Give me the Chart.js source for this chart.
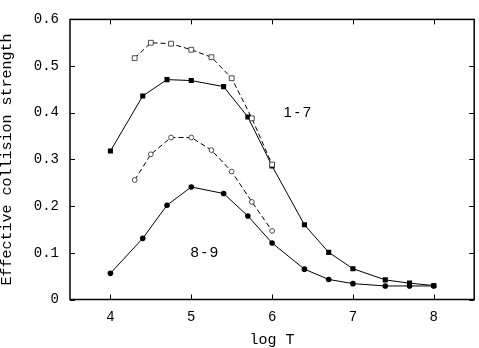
<!DOCTYPE html>
<html>
<head>
<meta charset="utf-8">
<script src="https://cdn.jsdelivr.net/npm/chart.js@4"></script>
<style>
  html, body { margin: 0; padding: 0; background: #fff; }
  #wrap { width: 479px; height: 348px; }
</style>
</head>
<body>
<div id="wrap"><canvas id="plot" width="479" height="348"></canvas></div>
<script>
// values
const logT = [4.0, 4.4, 4.7, 5.0, 5.4, 5.7, 6.0, 6.4, 6.7, 7.0, 7.4, 7.7, 8.0];
const ups17 = [0.318, 0.436, 0.471, 0.469, 0.456, 0.391, 0.286, 0.160, 0.101, 0.066, 0.042, 0.035, 0.030];
const ups89 = [0.056, 0.131, 0.202, 0.241, 0.227, 0.179, 0.121, 0.065, 0.043, 0.034, 0.029, 0.029, 0.029];

const logTOld = [4.3, 4.5, 4.75, 5.0, 5.25, 5.5, 5.75, 6.0];
const old17 = [0.517, 0.550, 0.548, 0.535, 0.519, 0.474, 0.388, 0.289];
const old89 = [0.256, 0.311, 0.347, 0.347, 0.320, 0.274, 0.209, 0.147];

const xTicks = [4, 5, 6, 7, 8];
const yTicks = [0, 0.1, 0.2, 0.3, 0.4, 0.5, 0.6];
const yTickLabels = ['0', '0.1', '0.2', '0.3', '0.4', '0.5', '0.6'];

const curveLabels = ['1-7', '8-9'];
const curveLabelX = [6.33, 5.18];
const curveLabelY = [0.399, 0.099];

const pts = (xs, ys) => xs.map((x, i) => ({x: x, y: ys[i]}));

const mono = 'Liberation Mono';

// frame, inward ticks on all four sides, curve labels
const framePlugin = {
  id: 'frame',
  afterDatasetsDraw(chart) {
    const ctx = chart.ctx;
    const a = chart.chartArea;
    const xs = chart.scales.x, ys = chart.scales.y;
    ctx.save();
    ctx.strokeStyle = '#000';
    ctx.lineWidth = 1;
    xTicks.forEach(v => {
      const px = Math.round(xs.getPixelForValue(v)) + 0.5;
      ctx.beginPath();
      ctx.moveTo(px, a.bottom); ctx.lineTo(px, a.bottom - 5);
      ctx.moveTo(px, a.top); ctx.lineTo(px, a.top + 5);
      ctx.stroke();
    });
    yTicks.forEach(v => {
      const py = Math.round(ys.getPixelForValue(v)) + 0.5;
      ctx.beginPath();
      ctx.moveTo(a.left, py); ctx.lineTo(a.left + 5, py);
      ctx.moveTo(a.right, py); ctx.lineTo(a.right - 5, py);
      ctx.stroke();
    });
    ctx.lineWidth = 1.5;
    ctx.strokeRect(a.left, a.top, a.right - a.left, a.bottom - a.top);

    ctx.fillStyle = '#000';
    ctx.font = '15px "Liberation Sans"';
    ctx.textAlign = 'center';
    ctx.textBaseline = 'middle';
    if ('letterSpacing' in ctx) ctx.letterSpacing = '3px';
    curveLabels.forEach((t, i) => {
      ctx.fillText(t, xs.getPixelForValue(curveLabelX[i]), ys.getPixelForValue(curveLabelY[i]));
    });
    ctx.restore();
  }
};

const ctx = document.getElementById('plot').getContext('2d');

new Chart(ctx, {
  type: 'scatter',
  data: {
    datasets: [
      {
        label: '1-7 old',
        data: pts(logTOld, old17),
        showLine: true,
        borderColor: '#000',
        borderWidth: 1,
        borderDash: [5, 3],
        pointStyle: 'rect',
        pointRadius: 3.4,
        pointBackgroundColor: '#fff',
        pointBorderColor: '#222',
        pointBorderWidth: 0.8
      },
      {
        label: '8-9 old',
        data: pts(logTOld, old89),
        showLine: true,
        borderColor: '#000',
        borderWidth: 1,
        borderDash: [5, 3],
        pointStyle: 'circle',
        pointRadius: 2.4,
        pointBackgroundColor: '#fff',
        pointBorderColor: '#222',
        pointBorderWidth: 0.8
      },
      {
        label: '1-7',
        data: pts(logT, ups17),
        showLine: true,
        borderColor: '#000',
        borderWidth: 1,
        pointStyle: 'rect',
        pointRadius: 3.6,
        pointBackgroundColor: '#000',
        pointBorderColor: '#000',
        pointBorderWidth: 0
      },
      {
        label: '8-9',
        data: pts(logT, ups89),
        showLine: true,
        borderColor: '#000',
        borderWidth: 1,
        pointStyle: 'circle',
        pointRadius: 2.8,
        pointBackgroundColor: '#000',
        pointBorderColor: '#000',
        pointBorderWidth: 0
      }
    ]
  },
  options: {
    responsive: false,
    animation: false,
    layout: { padding: { top: 5, right: 1, left: 0, bottom: 0 } },
    plugins: {
      legend: { display: false },
      tooltip: { enabled: false }
    },
    scales: {
      x: {
        type: 'linear',
        min: 3.5,
        max: 8.5,
        grid: { display: false, drawTicks: false },
        border: { display: false },
        afterBuildTicks: s => { s.ticks = xTicks.map(v => ({value: v})); },
        afterFit: s => { s.height = 48.5; },
        ticks: {
          color: '#000',
          font: { family: mono, size: 14 },
          padding: 9,
          callback: v => String(v)
        },
        title: {
          display: true,
          text: 'log T',
          color: '#000',
          font: { family: mono, size: 15, lineHeight: 1 },
          padding: 0
        }
      },
      y: {
        type: 'linear',
        min: 0,
        max: 0.6,
        grid: { display: false, drawTicks: false },
        border: { display: false },
        afterBuildTicks: s => { s.ticks = yTicks.map(v => ({value: v})); },
        afterFit: s => { s.width = 70; },
        ticks: {
          color: '#000',
          font: { family: mono, size: 14 },
          padding: 11,
          callback: (v, i) => yTickLabels[i]
        },
        title: {
          display: true,
          text: 'Effective collision strength',
          color: '#000',
          font: { family: mono, size: 15, lineHeight: 1 },
          padding: 0
        }
      }
    }
  },
  plugins: [framePlugin]
});
</script>
</body>
</html>
